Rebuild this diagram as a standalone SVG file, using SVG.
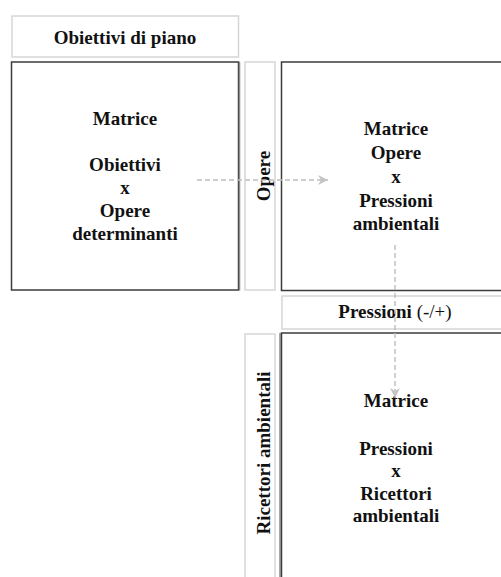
<svg xmlns="http://www.w3.org/2000/svg" width="501" height="577" viewBox="0 0 501 577">
<defs>
<style>
.lbl{fill:#fff;stroke:#d6d6d6;stroke-width:1.5}
.mat{fill:#fff;stroke:#3c3c3c;stroke-width:1.5}
.t{font-family:'Liberation Serif','Times New Roman','DejaVu Serif',serif;font-weight:700;font-size:19px;fill:#111;text-anchor:middle}
.conn{fill:none;stroke:#bdbdbd;stroke-width:1.4;stroke-dasharray:5 3}
</style>
<marker id="ah" markerWidth="12" markerHeight="12" refX="10" refY="5" orient="auto" markerUnits="userSpaceOnUse">
<path d="M0,0 L10,5 L0,10 L3,5 Z" fill="#c4c4c4"/>
</marker>
</defs>
<rect width="501" height="577" fill="#fff"/>
<g id="obiettivi-piano">
<rect class="lbl" x="12" y="16" width="226.5" height="41"/>
<text class="t" font-family="Liberation Serif, serif" x="125" y="44">Obiettivi di piano</text>
</g>
<g id="matrice-obiettivi-opere">
<rect class="mat" x="11.5" y="62" width="227" height="228"/>
<line x1="239.5" y1="62" x2="239.5" y2="290.5" stroke="#8a8a8a" stroke-width="1.5"/>
<text class="t" x="125" y="125">Matrice</text>
<text class="t" x="125" y="171">Obiettivi</text>
<text class="t" x="125" y="194">x</text>
<text class="t" x="125" y="217">Opere</text>
<text class="t" x="125" y="240">determinanti</text>
</g>
<g id="opere-label">
<rect class="lbl" x="245" y="62" width="30" height="228"/>
<text class="t" transform="translate(269.5,176) rotate(-90)" x="0" y="0">Opere</text>
</g>
<g id="matrice-opere-pressioni">
<rect class="mat" x="281.5" y="62" width="230" height="228.5"/>
<text class="t" x="396" y="135">Matrice</text>
<text class="t" x="396" y="159">Opere</text>
<text class="t" x="396" y="183">x</text>
<text class="t" x="396" y="207">Pressioni</text>
<text class="t" x="396" y="230">ambientali</text>
</g>
<g id="pressioni-label">
<rect class="lbl" x="282" y="296" width="230" height="33"/>
<text class="t" x="395" y="318">Pressioni <tspan font-weight="normal">(-/+)</tspan></text>
</g>
<g id="ricettori-label">
<rect class="lbl" x="245" y="334" width="30" height="260"/>
<text class="t" transform="translate(270,453) rotate(-90)" x="0" y="0">Ricettori ambientali</text>
</g>
<g id="matrice-pressioni-ricettori">
<line x1="280" y1="333" x2="280" y2="577" stroke="#8a8a8a" stroke-width="1.5"/>
<rect class="mat" x="281.5" y="333" width="230" height="260"/>
<text class="t" x="396" y="407">Matrice</text>
<text class="t" x="396" y="455">Pressioni</text>
<text class="t" x="396" y="477">x</text>
<text class="t" x="396" y="500">Ricettori</text>
<text class="t" x="396" y="522">ambientali</text>
</g>
<g id="connectors">
<line class="conn" x1="197" y1="180" x2="328" y2="180" marker-end="url(#ah)"/>
<line class="conn" x1="395" y1="245" x2="395" y2="398" marker-end="url(#ah)"/>
</g>
</svg>
